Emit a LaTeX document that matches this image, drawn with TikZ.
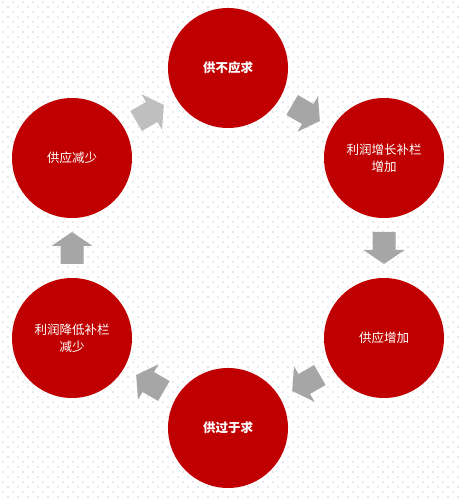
\documentclass[tikz,border=0pt]{standalone}
\usepackage{fontspec}
\newfontfamily\cjk{Noto Sans CJK SC}
\usetikzlibrary{calc}
\definecolor{cyclered}{HTML}{C00000}
\definecolor{arrgray}{HTML}{A6A6A6}
\definecolor{arrlight}{HTML}{BFBFBF}
\definecolor{dotgray}{HTML}{CCCCCC}
\tikzset{
  stage/.style={circle, fill=cyclered, minimum size=120pt, inner sep=0pt, text=white, align=center, font=\cjk\fontsize{12.5}{17}\selectfont},
  keystage/.style={stage, font=\cjk\bfseries\fontsize{12.5}{17}\selectfont},
}
\begin{document}
\begin{tikzpicture}[x=1pt, y=1pt]
\useasboundingbox (0,0) rectangle (458,500);
% dotted background
\foreach \j in {0,...,49} {
  \fill[dotgray] \foreach \i in {0,...,45} { (2.4+10*\i, 497.4-10*\j) rectangle ++(1.2,1.2) (7.4+10*\i, 492.4-10*\j) rectangle ++(1.2,1.2) };
}
% stages
\node[keystage] (sd0) at (228,432){供不应求};
\node[stage] (sd1) at (384,342){利润增长补栏\\增加};
\node[stage] (sd2) at (384,162){供应增加};
\node[keystage] (sd3) at (228,72){供过于求};
\node[stage] (sd4) at (72,162){利润降低补栏\\减少};
\node[stage] (sd5) at (72,342){供应减少};
% arrows
\fill[arrgray, shift={($(sd0)!0.5!(sd1)$)}, rotate=-30] (-16,-11.5) -- (2,-11.5) -- (2,-20.5) -- (16,0) -- (2,20.5) -- (2,11.5) -- (-16,11.5) -- cycle;
\fill[arrgray, shift={($(sd1)!0.5!(sd2)$)}, rotate=-90] (-16,-11.5) -- (2,-11.5) -- (2,-20.5) -- (16,0) -- (2,20.5) -- (2,11.5) -- (-16,11.5) -- cycle;
\fill[arrgray, shift={($(sd2)!0.5!(sd3)$)}, rotate=210] (-16,-11.5) -- (2,-11.5) -- (2,-20.5) -- (16,0) -- (2,20.5) -- (2,11.5) -- (-16,11.5) -- cycle;
\fill[arrgray, shift={($(sd3)!0.5!(sd4)$)}, rotate=150] (-16,-11.5) -- (2,-11.5) -- (2,-20.5) -- (16,0) -- (2,20.5) -- (2,11.5) -- (-16,11.5) -- cycle;
\fill[arrgray, shift={($(sd4)!0.5!(sd5)$)}, rotate=90] (-16,-11.5) -- (2,-11.5) -- (2,-20.5) -- (16,0) -- (2,20.5) -- (2,11.5) -- (-16,11.5) -- cycle;
\fill[arrlight, shift={($(sd5)!0.5!(sd0)$)}, rotate=30] (-16,-11.5) -- (2,-11.5) -- (2,-20.5) -- (16,0) -- (2,20.5) -- (2,11.5) -- (-16,11.5) -- cycle;
\end{tikzpicture}
\end{document}
